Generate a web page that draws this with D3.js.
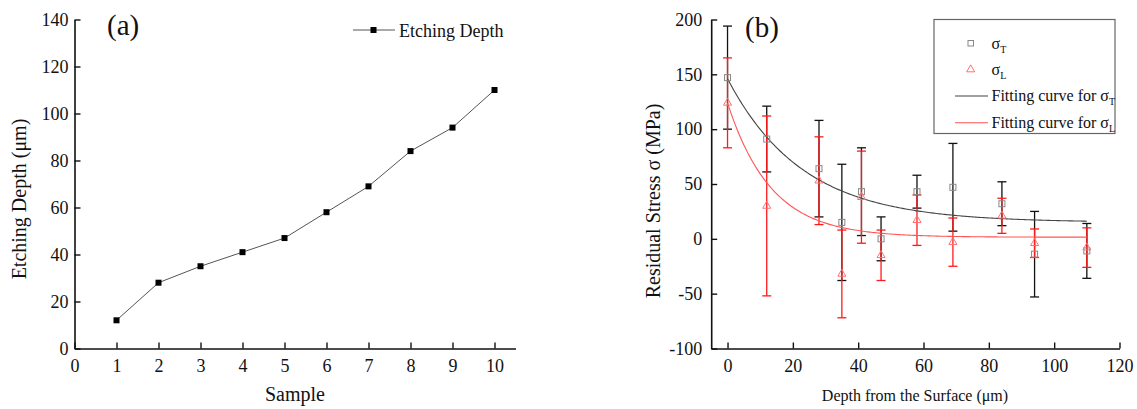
<!DOCTYPE html>
<html>
<head>
<meta charset="utf-8">
<script src="https://cdn.jsdelivr.net/npm/d3@7"></script>
<style>
  html, body { margin: 0; padding: 0; background: #fff; }
  svg { display: block; }
  svg text { font-family: "Liberation Serif", "Times New Roman", serif !important; fill: #111; }
</style>
</head>
<body>
<svg id="fig" width="1137" height="409"></svg>
<script>
// ---- Panel (a): etching depth per sample ----
const samples = [1, 2, 3, 4, 5, 6, 7, 8, 9, 10];
const etchingDepth = [12, 28, 35, 41, 47, 58, 69, 84, 94, 110];
const sampleTicks = [0, 1, 2, 3, 4, 5, 6, 7, 8, 9, 10];
const depthTicks = [0, 20, 40, 60, 80, 100, 120, 140];

// ---- Panel (b): residual stress vs depth ----
const depths = [0, 12, 28, 35, 41, 47, 58, 69, 84, 94, 110];
const sigmaT = [147, 91, 64, 15, 43, 0, 43, 47, 32, -14, -11];
const sigmaTErr = [47, 30, 44, 53, 40, 20, 15, 40, 20, 39, 25];
const sigmaL = [124, 30, 53, -32, 38, -15, 17, -3, 21, -4, -8];
const sigmaLErr = [41, 82, 40, 40, 42, 23, 23, 22, 16, 13, 18];
// exponential decay fits: y = y0 + A * exp(-x / t)
const fitT = [15, 131, 23];
const fitL = [1.5, 122.5, 13.3];
const surfaceTicks = [0, 20, 40, 60, 80, 100, 120];
const stressTicks = [-100, -50, 0, 50, 100, 150, 200];

const SERIF = '"Liberation Serif", "Times New Roman", serif';
const svg = d3.select("#fig");
const TICK = 6;

function styleAxis(g) {
  g.attr("font-family", SERIF).style("font-family", SERIF);
  g.selectAll(".domain").attr("stroke", "#111").attr("stroke-width", 1.6);
  g.selectAll(".tick line").attr("stroke", "#111").attr("stroke-width", 1.4);
  g.selectAll(".tick text")
    .style("font-family", SERIF)
    .attr("font-size", 18).attr("fill", "#111");
}

// ================= Panel (a) =================
{
  const x = d3.scaleLinear().domain([0, 10.5]).range([74.5, 515.5]);
  const y = d3.scaleLinear().domain([0, 140]).range([348.5, 19.5]);

  const gx = svg.append("g").attr("transform", `translate(0,${y(0)})`)
    .call(d3.axisBottom(x).tickValues(sampleTicks).tickFormat(d3.format("d"))
      .tickSize(-TICK).tickSizeOuter(0));
  styleAxis(gx);
  gx.selectAll(".tick text").attr("dy", "0.71em").attr("y", 11);

  const gy = svg.append("g").attr("transform", `translate(${x(0)},0)`)
    .call(d3.axisLeft(y).tickValues(depthTicks).tickFormat(d3.format("d"))
      .tickSize(-TICK).tickSizeOuter(0));
  styleAxis(gy);
  gy.selectAll(".tick text").attr("x", -6);

  const line = d3.line().x((d, i) => x(samples[i])).y(d => y(d));
  svg.append("path").datum(etchingDepth)
    .attr("d", line).attr("fill", "none")
    .attr("stroke", "#555").attr("stroke-width", 1);

  svg.append("g").selectAll("rect").data(etchingDepth).join("rect")
    .attr("x", (d, i) => x(samples[i]) - 3).attr("y", d => y(d) - 3)
    .attr("width", 6).attr("height", 6).attr("fill", "#000");

  // legend
  svg.append("line").attr("x1", 353).attr("x2", 395).attr("y1", 30).attr("y2", 30)
    .attr("stroke", "#555").attr("stroke-width", 1);
  svg.append("rect").attr("x", 370.5).attr("y", 27).attr("width", 6).attr("height", 6).attr("fill", "#000");
  svg.append("text").attr("x", 399).attr("y", 36.5).attr("font-size", 18).text("Etching Depth");

  svg.append("text").attr("x", 107).attr("y", 35).attr("font-size", 29).text("(a)");
  svg.append("text").attr("x", 295).attr("y", 401).attr("font-size", 20)
    .attr("text-anchor", "middle").text("Sample");
  svg.append("text").attr("transform", "translate(26,199) rotate(-90)")
    .attr("font-size", 20).attr("text-anchor", "middle").text("Etching Depth (μm)");
}

// ================= Panel (b) =================
{
  const x = d3.scaleLinear().domain([-5, 120]).range([711.2, 1119.5]);
  const y = d3.scaleLinear().domain([-100, 200]).range([348.5, 19.5]);

  const gx = svg.append("g").attr("transform", `translate(0,${y(-100)})`)
    .call(d3.axisBottom(x).tickValues(surfaceTicks).tickFormat(d3.format("d"))
      .tickSize(-TICK).tickSizeOuter(0));
  styleAxis(gx);
  gx.selectAll(".tick text").attr("dy", "0.71em").attr("y", 11);

  const gy = svg.append("g").attr("transform", `translate(${x(-5)},0)`)
    .call(d3.axisLeft(y).tickValues(stressTicks).tickFormat(d => String(d))
      .tickSize(-TICK).tickSizeOuter(0));
  styleAxis(gy);
  gy.selectAll(".tick text").attr("x", -9);

  // error bars: σT first, σL drawn over it
  function errorBars(vals, errs, color) {
    const g = svg.append("g").attr("stroke", color).attr("stroke-width", 1.3);
    vals.forEach((v, i) => {
      const cx = x(depths[i]);
      const top = y(v + errs[i]);
      const bot = y(v - errs[i]);
      g.append("line").attr("x1", cx).attr("x2", cx).attr("y1", top).attr("y2", bot);
      g.append("line").attr("x1", cx - 4.5).attr("x2", cx + 4.5).attr("y1", top).attr("y2", top);
      g.append("line").attr("x1", cx - 4.5).attr("x2", cx + 4.5).attr("y1", bot).attr("y2", bot);
    });
  }
  errorBars(sigmaT, sigmaTErr, "#111");
  errorBars(sigmaL, sigmaLErr, "#ff1a1a");

  // fitted curves
  const xs = d3.range(0, 110.01, 0.5);
  const fitLine = p => d3.line().x(d => x(d)).y(d => y(p[0] + p[1] * Math.exp(-d / p[2])));
  svg.append("path").datum(xs).attr("d", fitLine(fitT))
    .attr("fill", "none").attr("stroke", "#444").attr("stroke-width", 1.1);
  svg.append("path").datum(xs).attr("d", fitLine(fitL))
    .attr("fill", "none").attr("stroke", "#ff5555").attr("stroke-width", 1.1);

  // markers
  svg.append("g").selectAll("rect").data(sigmaT).join("rect")
    .attr("x", (d, i) => x(depths[i]) - 3).attr("y", d => y(d) - 3)
    .attr("width", 6).attr("height", 6)
    .attr("fill", "none").attr("stroke", "#888").attr("stroke-width", 1);
  const tri = d3.symbol().type(d3.symbolTriangle).size(28);
  svg.append("g").selectAll("path").data(sigmaL).join("path")
    .attr("transform", (d, i) => `translate(${x(depths[i])},${y(d)})`)
    .attr("d", tri).attr("fill", "none").attr("stroke", "#ff7070").attr("stroke-width", 1);

  // legend
  svg.append("rect").attr("x", 934).attr("y", 19.5).attr("width", 181).attr("height", 114)
    .attr("fill", "#fff").attr("stroke", "#666").attr("stroke-width", 1.2);
  svg.append("rect").attr("x", 968).attr("y", 40.5).attr("width", 5.5).attr("height", 5.5)
    .attr("fill", "none").attr("stroke", "#888").attr("stroke-width", 1);
  svg.append("path").attr("transform", "translate(970.7,69.5)").attr("d", tri)
    .attr("fill", "none").attr("stroke", "#ff7070").attr("stroke-width", 1);
  svg.append("line").attr("x1", 955).attr("x2", 988).attr("y1", 96).attr("y2", 96)
    .attr("stroke", "#444").attr("stroke-width", 1.1);
  svg.append("line").attr("x1", 955).attr("x2", 988).attr("y1", 122.7).attr("y2", 122.7)
    .attr("stroke", "#ff5555").attr("stroke-width", 1.1);

  function sigmaLabel(xp, yp, prefix, sub) {
    const t = svg.append("text").attr("x", xp).attr("y", yp).attr("font-size", 16);
    t.append("tspan").text(prefix + "σ");
    t.append("tspan").attr("font-size", 10).attr("dy", 4).text(sub);
  }
  sigmaLabel(991.5, 48.5, "", "T");
  sigmaLabel(991.5, 74.5, "", "L");
  sigmaLabel(991.5, 101, "Fitting curve for ", "T");
  sigmaLabel(991.5, 127.5, "Fitting curve for ", "L");

  svg.append("text").attr("x", 745).attr("y", 37).attr("font-size", 29).text("(b)");
  svg.append("text").attr("x", 915).attr("y", 401).attr("font-size", 16)
    .attr("text-anchor", "middle").text("Depth from the Surface (μm)");
  svg.append("text").attr("transform", "translate(660,201) rotate(-90)")
    .attr("font-size", 20).attr("text-anchor", "middle").text("Residual Stress σ (MPa)");
}
</script>
</body>
</html>
